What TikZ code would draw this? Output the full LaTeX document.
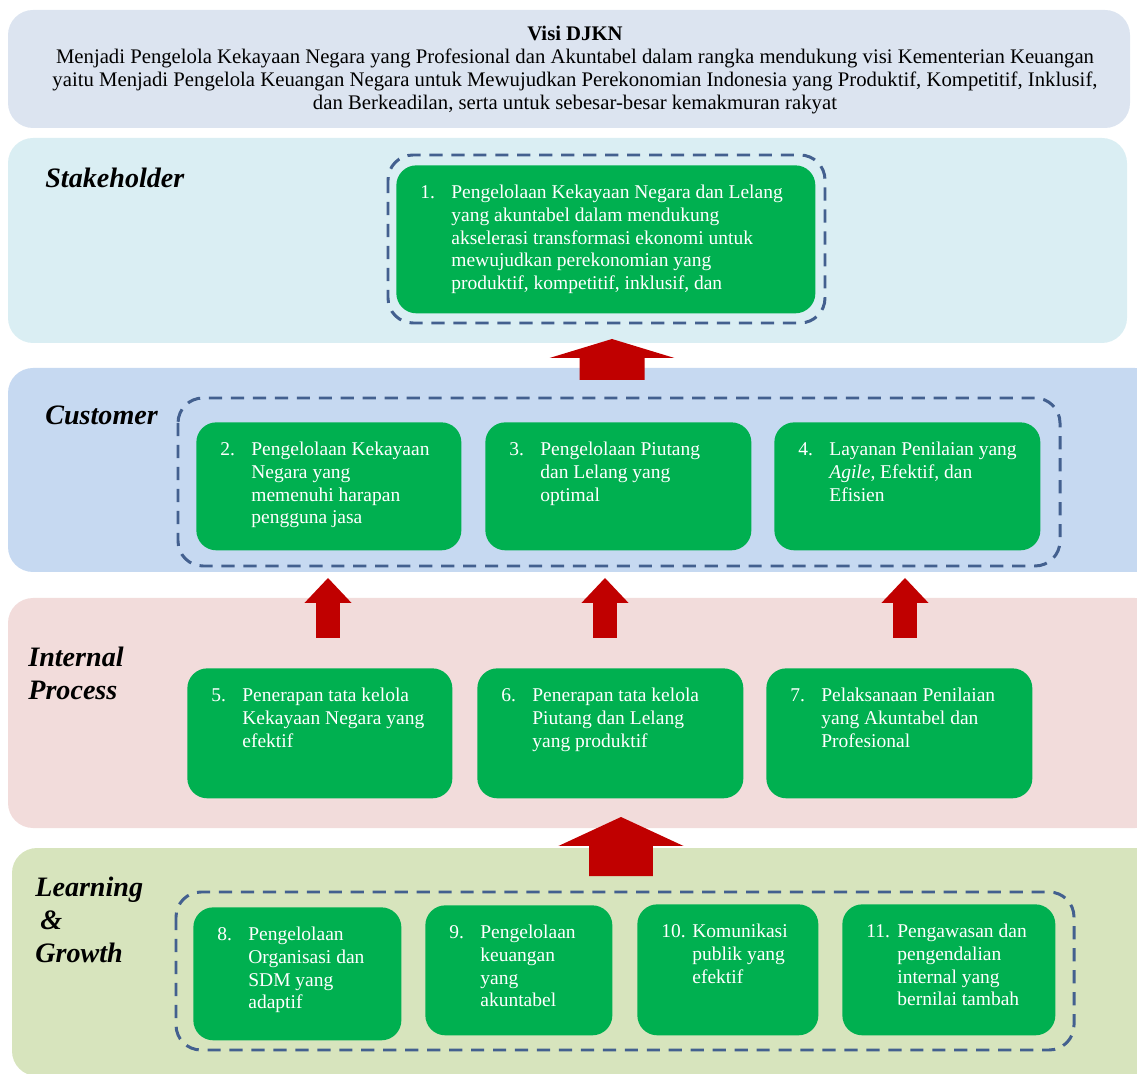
\documentclass[tikz,border=0pt]{standalone}
\usepackage{fontspec}
\setmainfont{Liberation Serif}
\usetikzlibrary{calc}

\newdimen\px \px=0.02cm
\newcommand\boxlines[3]{\hspace*{24\px}\makebox[31\px][l]{#2}\makebox[\dimexpr#1\px-55\px\relax][l]{\begin{tabular}[t]{@{}l@{}}#3\end{tabular}}}

\definecolor{visiC}{HTML}{DCE4F0}
\definecolor{stakeC}{HTML}{DAEEF3}
\definecolor{custC}{HTML}{C6D9F1}
\definecolor{intC}{HTML}{F2DCDB}
\definecolor{learnC}{HTML}{D7E4BD}
\definecolor{boxC}{HTML}{00B050}
\definecolor{dashC}{HTML}{43608F}
\definecolor{arrowC}{HTML}{C00000}

\begin{document}
\begin{tikzpicture}[x=0.02cm, y=-0.02cm,
    band/.style={rounded corners=0.5cm},
    gbox/.style={fill=boxC, rounded corners=0.4cm, anchor=north west, inner sep=0pt,
      text=white, font=\fontsize{11.1}{13}\selectfont, text height=0.66cm},
    group/.style={draw=dashC, line width=1.7pt, dash pattern=on 7.5pt off 5pt, rounded corners=0.5cm},
    perspective/.style={anchor=west, align=left, inner sep=0pt,
      font=\fontsize{16}{18.8}\selectfont\bfseries\itshape},
    blockarrow/.style n args={3}{fill=arrowC, to path={let \p1=(\tikztostart), \p2=(\tikztotarget) in
      (\x1-#1,\y1) -- (\x1-#1,\y2-#3) -- (\x1-#2,\y2-#3) -- (\x2,\y2) -- (\x1+#2,\y2-#3) -- (\x1+#1,\y2-#3) -- (\x1+#1,\y1) -- cycle}}]
  \useasboundingbox (0,0) rectangle (1137,1074);

  % bands
  \fill[visiC, band] (8,10) rectangle (1130,128);
  \fill[stakeC, band] (8,138) rectangle (1127,343);
  \fill[custC, band] (8,368) rectangle (1160,572);
  \fill[intC, band] (8,598) rectangle (1160,828);
  \fill[learnC, band] (12,848) rectangle (1160,1076);

  \node[align=center, font=\fontsize{11.8}{13.1}\selectfont] (visi) at (575,70)
    {\textbf{Visi DJKN}\\
     Menjadi Pengelola Kekayaan Negara yang Profesional dan Akuntabel dalam rangka mendukung visi Kementerian Keuangan\\
     yaitu Menjadi Pengelola Keuangan Negara untuk Mewujudkan Perekonomian Indonesia yang Produktif, Kompetitif, Inklusif,\\
     dan Berkeadilan, serta untuk sebesar-besar kemakmuran rakyat};

  \node[perspective] (lstake) at (45,178) {Stakeholder};
  \node[perspective] (lcust) at (45,415) {Customer};
  \node[perspective] (lint) at (28,673) {Internal\\Process};
  \node[perspective] (llearn) at (35,920) {Learning\\\hspace*{0.1cm}\&\\Growth};

  % stakeholder
  \draw[group] (388,155) rectangle (825,323);
  \node[gbox, text depth=2.3cm] (b1) at (396,165) {\boxlines{419}{1.}{Pengelolaan Kekayaan Negara dan Lelang\\yang akuntabel dalam mendukung\\akselerasi transformasi ekonomi untuk\\mewujudkan perekonomian yang\\produktif, kompetitif, inklusif, dan}};

  % customer
  \draw[group] (178,398) rectangle (1060,566);
  \node[gbox, text depth=1.9cm] (b2) at (196,422) {\boxlines{265}{2.}{Pengelolaan Kekayaan\\Negara yang\\memenuhi harapan\\pengguna jasa}};
  \node[gbox, text depth=1.9cm] (b3) at (485,422) {\boxlines{266}{3.}{Pengelolaan Piutang\\dan Lelang yang\\optimal}};
  \node[gbox, text depth=1.9cm] (b4) at (774,422) {\boxlines{266}{4.}{Layanan Penilaian yang\\\textit{Agile}, Efektif, dan\\Efisien}};

  % internal process
  \node[gbox, text depth=1.94cm] (b5) at (187,668) {\boxlines{265}{5.}{Penerapan tata kelola\\Kekayaan Negara yang\\efektif}};
  \node[gbox, text depth=1.94cm] (b6) at (477,668) {\boxlines{266}{6.}{Penerapan tata kelola\\Piutang dan Lelang\\yang produktif}};
  \node[gbox, text depth=1.94cm] (b7) at (766,668) {\boxlines{266}{7.}{Pelaksanaan Penilaian\\yang Akuntabel dan\\Profesional}};

  % learning and growth
  \draw[group] (176,892) rectangle (1074,1050);
  \node[gbox, text depth=2.0cm] (b8) at (193,907) {\boxlines{208}{8.}{Pengelolaan\\Organisasi dan\\SDM yang\\adaptif}};
  \node[gbox, text depth=1.94cm] (b9) at (425,905) {\boxlines{187}{9.}{Pengelolaan\\keuangan\\yang\\akuntabel}};
  \node[gbox, text depth=1.96cm] (b10) at (637,904) {\boxlines{181}{10.}{Komunikasi\\publik yang\\efektif}};
  \node[gbox, text depth=1.96cm] (b11) at (842,904) {\boxlines{213}{11.}{Pengawasan dan\\pengendalian\\internal yang\\bernilai tambah}};

  % arrows
  \coordinate (up0s) at (612,380); \coordinate (up0e) at (612,339);
  \coordinate (up1s) at (328,638); \coordinate (up1e) at (328,578);
  \coordinate (up2s) at (605,638); \coordinate (up2e) at (605,578);
  \coordinate (up3s) at (905,638); \coordinate (up3e) at (905,578);
  \coordinate (up4s) at (621,876); \coordinate (up4e) at (621,817);
  \path[blockarrow={18.5pt}{35.5pt}{10.8pt}] (up0s) to (up0e);
  \path[blockarrow={6.8pt}{13.4pt}{14.2pt}] (up1s) to (up1e);
  \path[blockarrow={6.8pt}{13.4pt}{14.2pt}] (up2s) to (up2e);
  \path[blockarrow={6.8pt}{13.4pt}{14.2pt}] (up3s) to (up3e);
  \path[blockarrow={18.2pt}{35.6pt}{16.5pt}] (up4s) to (up4e);
\end{tikzpicture}
\end{document}
